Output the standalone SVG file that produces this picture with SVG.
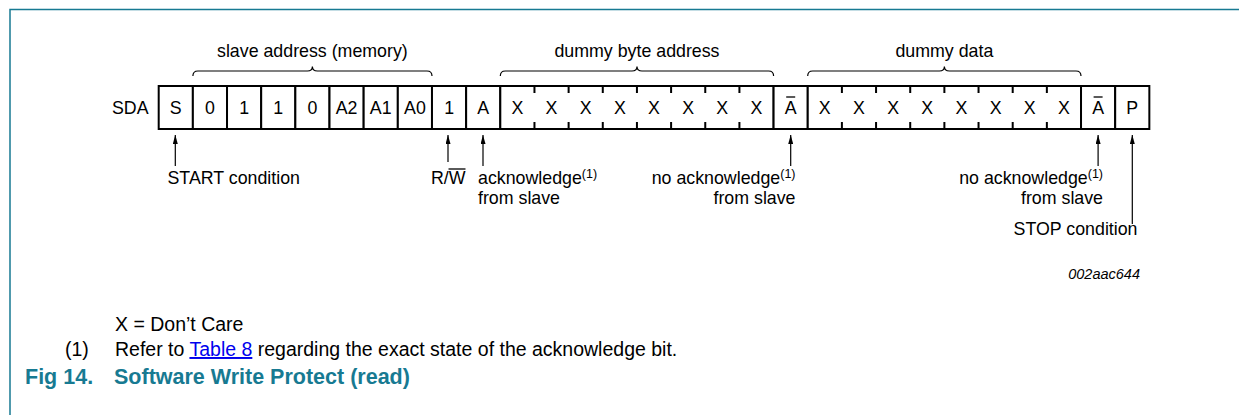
<svg xmlns="http://www.w3.org/2000/svg" width="1239" height="415" viewBox="0 0 1239 415">
<defs>
<style>
text{font-family:"Liberation Sans",Arial,sans-serif;fill:#000}
.t{font-size:17.8px}
.c{font-size:17.8px;text-anchor:middle}
.sup{font-size:12.5px}
.cell{fill:#fff;stroke:#000;stroke-width:2}
.tick{stroke:#000;stroke-width:2}
.bar{stroke:#000;stroke-width:1.3}
.brace{fill:none;stroke:#000;stroke-width:1.2}
.arr{stroke:#000;stroke-width:1.2;marker-end:url(#ah)}
.fn{font-size:19.5px}
.title{font-size:21.5px;font-weight:bold;fill:#177a92}
.frame{stroke:#177a92;stroke-width:1.5;fill:none}
</style>
<marker id="ah" markerWidth="9" markerHeight="5" refX="9" refY="2.5" orient="auto" markerUnits="userSpaceOnUse"><path d="M0,0 L9,2.5 L0,5 z" fill="#000"/></marker>
</defs>
<path class="frame" d="M10,415 V9.5 H1239"/>
<text class="t" x="112" y="114">SDA</text>
<g id="braces">
<g id="brace-slave"><path class="brace" d="M192.9,76 Q192.9,71 197.9,71 L307.4,71 Q312.4,71 312.4,66.5 Q312.4,71 317.4,71 L427,71 Q432,71 432,76"/><text class="c" x="312.4" y="57">slave address (memory)</text></g>
<g id="brace-byte"><path class="brace" d="M500.3,76 Q500.3,71 505.3,71 L632,71 Q637,71 637,66.5 Q637,71 642,71 L768.6,71 Q773.6,71 773.6,76"/><text class="c" x="637" y="57">dummy byte address</text></g>
<g id="brace-data"><path class="brace" d="M807.7,76 Q807.7,71 812.7,71 L939.4,71 Q944.4,71 944.4,66.5 Q944.4,71 949.4,71 L1076,71 Q1081,71 1081,76"/><text class="c" x="944.4" y="57">dummy data</text></g>
</g>
<g id="cell-S"><rect class="cell" x="158.7" y="86" width="34.16" height="43"/><text class="c" x="175.8" y="114">S</text></g>
<g id="cell-b6"><rect class="cell" x="192.86" y="86" width="34.16" height="43"/><text class="c" x="209.9" y="114">0</text></g>
<g id="cell-b5"><rect class="cell" x="227.02" y="86" width="34.16" height="43"/><text class="c" x="244.1" y="114">1</text></g>
<g id="cell-b4"><rect class="cell" x="261.18" y="86" width="34.16" height="43"/><text class="c" x="278.3" y="114">1</text></g>
<g id="cell-b3"><rect class="cell" x="295.34" y="86" width="34.16" height="43"/><text class="c" x="312.4" y="114">0</text></g>
<g id="cell-A2"><rect class="cell" x="329.5" y="86" width="34.16" height="43"/><text class="c" x="346.6" y="114">A2</text></g>
<g id="cell-A1"><rect class="cell" x="363.66" y="86" width="34.16" height="43"/><text class="c" x="380.7" y="114">A1</text></g>
<g id="cell-A0"><rect class="cell" x="397.82" y="86" width="34.16" height="43"/><text class="c" x="414.9" y="114">A0</text></g>
<g id="cell-RW"><rect class="cell" x="431.98" y="86" width="34.16" height="43"/><text class="c" x="449.1" y="114">1</text></g>
<g id="cell-ack1"><rect class="cell" x="466.14" y="86" width="34.16" height="43"/><text class="c" x="483.2" y="114">A</text></g>
<g id="byte-address">
<rect class="cell" x="500.3" y="86" width="273.28" height="43"/>
<path class="tick" d="M534.46,86v7M534.46,129v-7M568.62,86v7M568.62,129v-7M602.78,86v7M602.78,129v-7M636.94,86v7M636.94,129v-7M671.1,86v7M671.1,129v-7M705.26,86v7M705.26,129v-7M739.42,86v7M739.42,129v-7"/>
<text class="c" x="517.4" y="114">X</text><text class="c" x="551.5" y="114">X</text><text class="c" x="585.7" y="114">X</text><text class="c" x="619.9" y="114">X</text><text class="c" x="654" y="114">X</text><text class="c" x="688.2" y="114">X</text><text class="c" x="722.3" y="114">X</text><text class="c" x="756.5" y="114">X</text>
</g>
<g id="cell-nack1"><rect class="cell" x="773.58" y="86" width="34.16" height="43"/><text class="c" x="790.7" y="114">A</text><line class="bar" x1="786.2" y1="97" x2="795.2" y2="97"/></g>
<g id="data-byte">
<rect class="cell" x="807.74" y="86" width="273.28" height="43"/>
<path class="tick" d="M841.9,86v7M841.9,129v-7M876.06,86v7M876.06,129v-7M910.22,86v7M910.22,129v-7M944.38,86v7M944.38,129v-7M978.54,86v7M978.54,129v-7M1012.7,86v7M1012.7,129v-7M1046.86,86v7M1046.86,129v-7"/>
<text class="c" x="824.8" y="114">X</text><text class="c" x="859" y="114">X</text><text class="c" x="893.1" y="114">X</text><text class="c" x="927.3" y="114">X</text><text class="c" x="961.5" y="114">X</text><text class="c" x="995.6" y="114">X</text><text class="c" x="1029.8" y="114">X</text><text class="c" x="1063.9" y="114">X</text>
</g>
<g id="cell-nack2"><rect class="cell" x="1081.02" y="86" width="34.16" height="43"/><text class="c" x="1098.1" y="114">A</text><line class="bar" x1="1093.6" y1="97" x2="1102.6" y2="97"/></g>
<g id="cell-P"><rect class="cell" x="1115.18" y="86" width="34.16" height="43"/><text class="c" x="1132.3" y="114">P</text></g>
<g id="connectors">
<line class="arr" x1="175.3" y1="166" x2="175.3" y2="135"/>
<line class="arr" x1="448" y1="162" x2="448" y2="135"/>
<line class="arr" x1="483" y1="166" x2="483" y2="135"/>
<line class="arr" x1="790.7" y1="166" x2="790.7" y2="135"/>
<line class="arr" x1="1098.1" y1="166" x2="1098.1" y2="135"/>
<line class="arr" x1="1132.3" y1="224" x2="1132.3" y2="135"/>
</g>
<g id="labels">
<text class="t" x="167.5" y="184">START condition</text>
<text class="t" x="431" y="184">R/W</text><line class="bar" x1="448.5" y1="169" x2="465.5" y2="169"/>
<text class="t" x="478" y="184">acknowledge<tspan class="sup" dy="-6">(1)</tspan></text>
<text class="t" x="478" y="204">from slave</text>
<text class="t" x="795.5" y="184" text-anchor="end">no acknowledge<tspan class="sup" dy="-6">(1)</tspan></text>
<text class="t" x="795.5" y="204" text-anchor="end">from slave</text>
<text class="t" x="1103" y="184" text-anchor="end">no acknowledge<tspan class="sup" dy="-6">(1)</tspan></text>
<text class="t" x="1103" y="204" text-anchor="end">from slave</text>
<text class="t" x="1137.5" y="235" text-anchor="end">STOP condition</text>
<text x="1140" y="279" text-anchor="end" font-size="14.5" font-style="italic">002aac644</text>
</g>
<g id="notes">
<text class="fn" x="115" y="331">X = Don’t Care</text>
<text class="fn" x="65" y="356">(1)</text>
<text class="fn" x="115" y="356">Refer to <tspan fill="#0000ee" text-decoration="underline">Table 8</tspan> regarding the exact state of the acknowledge bit.</text>
<text class="title" x="25" y="384">Fig 14.</text>
<text class="title" x="114" y="384">Software Write Protect (read)</text>
</g>
</svg>
